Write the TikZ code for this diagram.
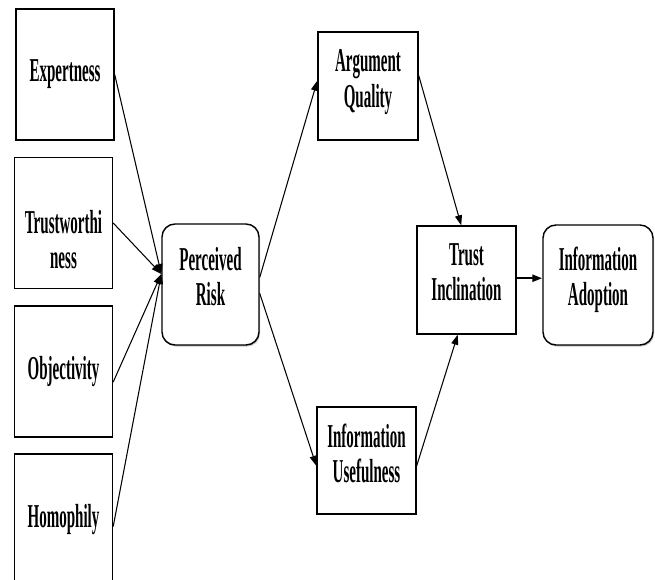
\documentclass[tikz,border=0pt]{standalone}
\usepackage{fontspec}
\setmainfont{Liberation Serif}
\newfontfamily\boxfont[FakeStretch=0.45]{Liberation Serif}
\usetikzlibrary{arrows.meta}
\usetikzlibrary{positioning,shadows}
\tikzset{
    factor/.style={
        draw,
        rectangle,
        fill=white,
        line width=0.8pt,
        minimum width=1.96cm,
        minimum height=2.62cm,
        inner sep=2pt,
        align=center,
        font=\boxfont\bfseries\fontsize{19}{20}\selectfont
    },
    construct/.style={
        factor,
        minimum width=1.98cm,
        minimum height=2.16cm
    },
    outcome/.style={
        factor,
        rounded corners=0.26cm,
        minimum width=1.94cm,
        minimum height=2.42cm,
        drop shadow={shadow xshift=0.6pt, shadow yshift=-0.9pt, opacity=0.45}
    },
    link/.style={
        draw,
        -{Triangle[length=2mm, width=1.4mm]},
        line width=0.6pt
    }
}

\begin{document}
\begin{tikzpicture}
    \useasboundingbox (0,0) rectangle (13.1,11.6);
    % Source credibility factors
    \node[factor] (exp) at (1.30,10.11) {Expertness};
    \node[factor] (trw) at (1.27,7.14) {\rule{0pt}{32pt}Trustworthi\\ness};
    \node[factor] (obj) at (1.27,4.17) {Objectivity};
    \node[factor] (hom) at (1.27,1.21) {Homophily};

    % Mediators
    \node[outcome] (pr) at (4.21,5.91) {Perceived\\Risk\rule[-9pt]{0pt}{0pt}};
    \node[construct, minimum width=2cm] (aq) at (7.36,9.88) {Argument\\Quality\rule[-8.5pt]{0pt}{0pt}};
    \node[construct, minimum height=2.14cm] (iu) at (7.33,2.39) {Information\\Usefulness\rule[-8pt]{0pt}{0pt}};
    \node[construct] (ti) at (9.33,6.0) {Trust\\Inclination\rule[-9pt]{0pt}{0pt}};
    \node[outcome, minimum width=2.2cm, minimum height=2.4cm] (ia) at (11.96,5.9) {Information\\Adoption\rule[-10pt]{0pt}{0pt}};

    % Edges
    \draw[link] (exp.east) -- ([yshift=6pt]pr.west);
    \draw[link] (trw.east) -- ([yshift=6pt]pr.west);
    \draw[link] ([yshift=-6pt]obj.east) -- ([yshift=6pt]pr.west);
    \draw[link] ([yshift=-4pt]hom.east) -- ([yshift=6pt]pr.west);
    \draw[link] ([yshift=4pt]pr.east) -- ([yshift=3pt]aq.west);
    \draw[link] ([yshift=-5pt]pr.east) -- ([yshift=-3pt]iu.west);
    \draw[link] ([yshift=6pt]aq.east) -- ([xshift=-3pt]ti.north);
    \draw[link] ([yshift=-3pt]iu.east) -- ([xshift=-5pt]ti.south);
    \draw[link, line width=1.3pt] ([yshift=1pt]ti.east) -- ([yshift=1pt]ti.east -| ia.west);
\end{tikzpicture}
\end{document}
